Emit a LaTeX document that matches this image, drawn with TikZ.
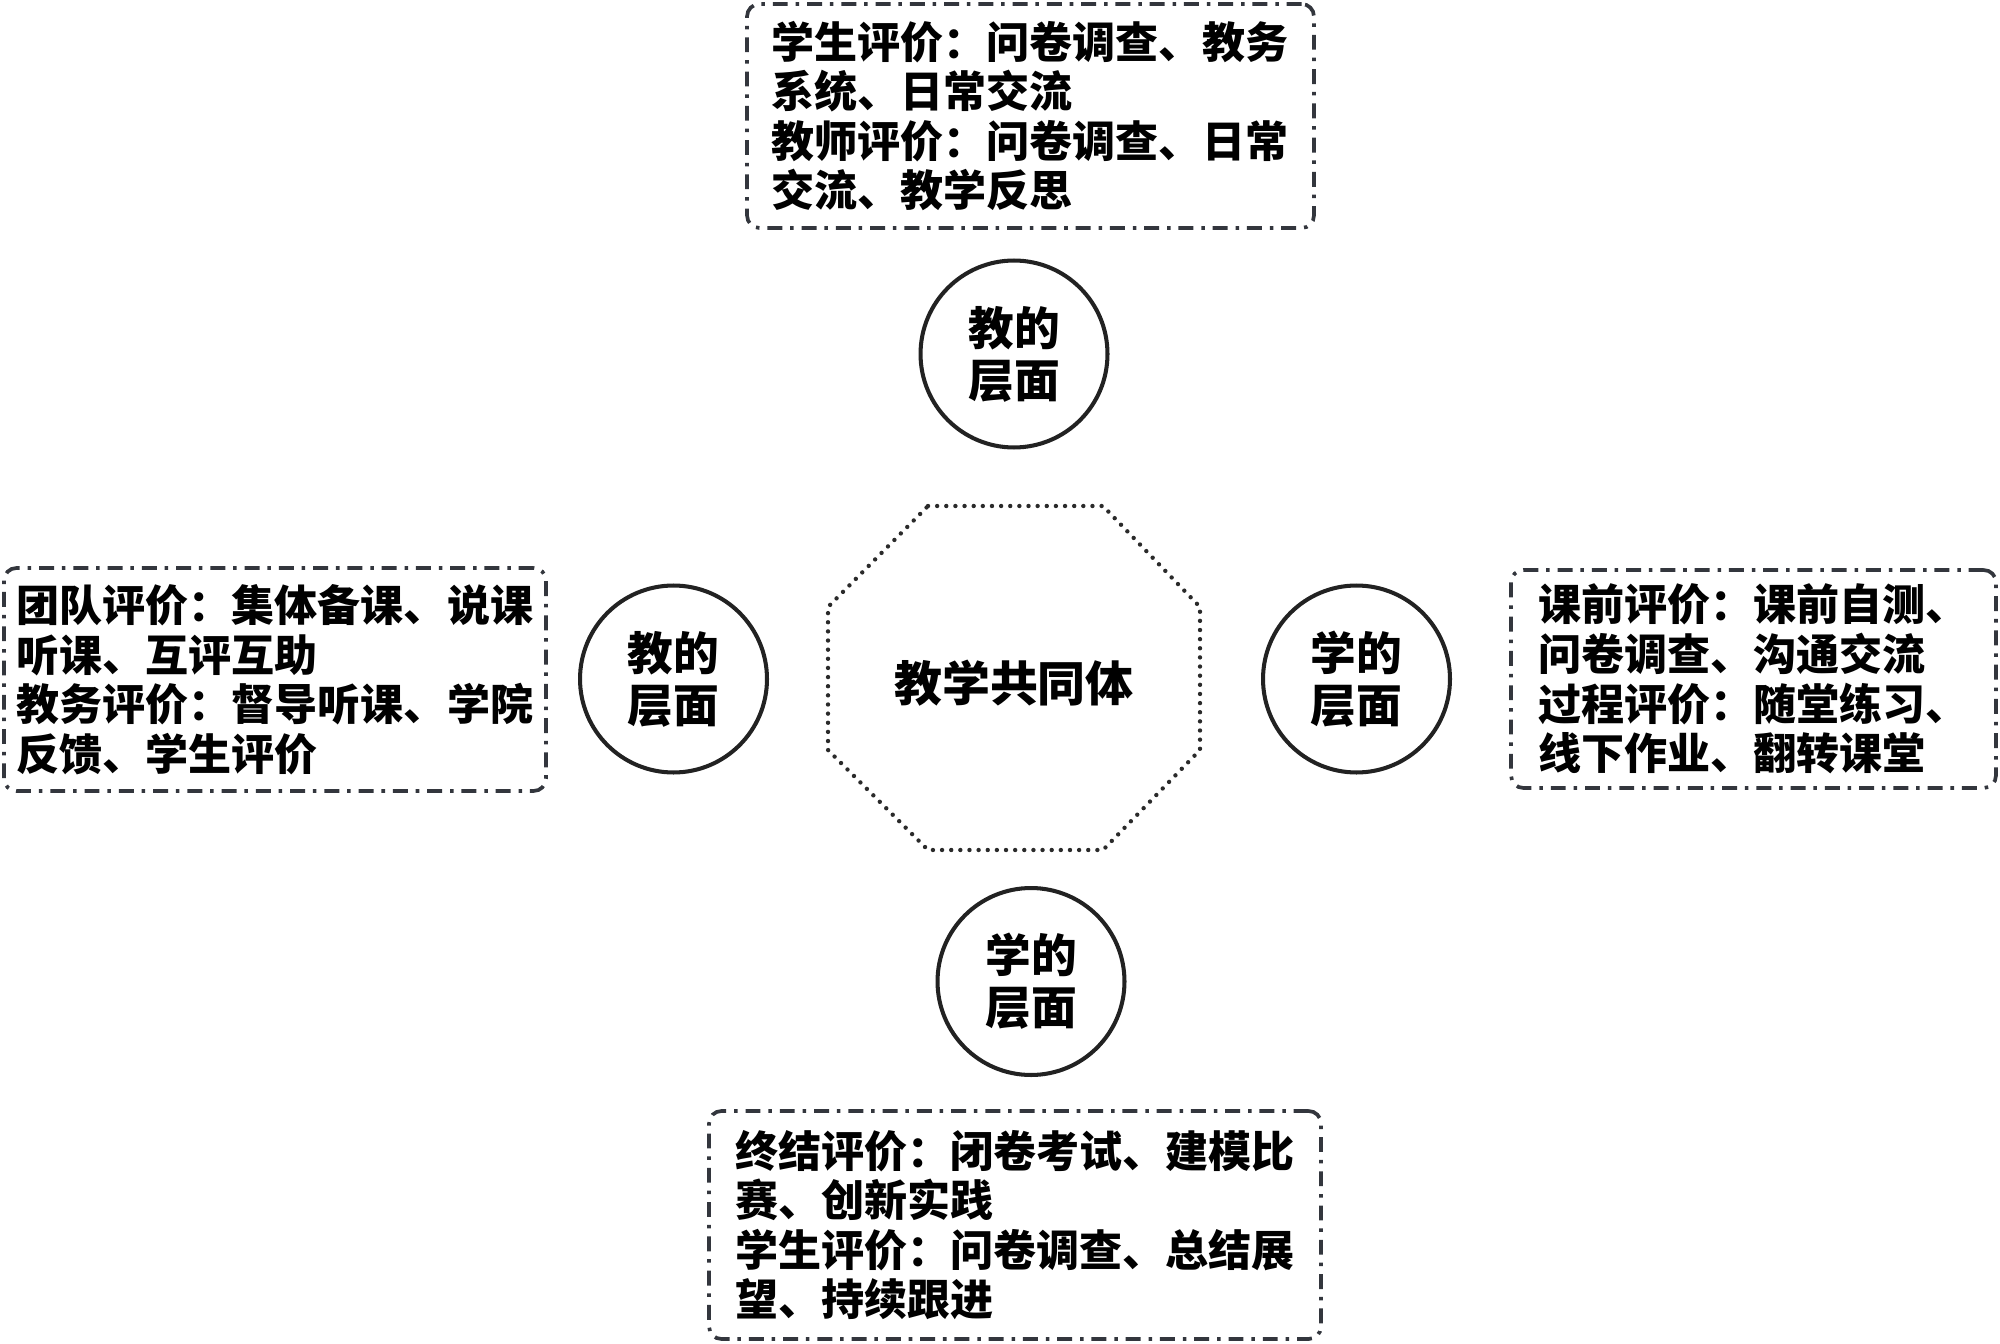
\documentclass[tikz,border=0pt]{standalone}
\usepackage{fontspec}
\newfontfamily\cjk{Noto Sans CJK SC}
\definecolor{boxgray}{HTML}{33363D}
\definecolor{circgray}{HTML}{222222}
\definecolor{dotgray}{HTML}{2A2A2A}
\begin{document}
\begin{tikzpicture}[x=0.02cm,y=-0.02cm,
  infobox/.style={draw=boxgray, line width=2.1pt, rounded corners=7pt,
    dash pattern=on 8.5pt off 4.5pt on 2pt off 4.5pt,
    align=left, font=\cjk\bfseries\fontsize{24.5}{28.2}\selectfont,
    inner ysep=0pt, anchor=center},
  circ/.style={circle, draw=circgray, line width=2.3pt, minimum size=3.74cm,
    inner sep=0pt, align=center, font=\cjk\bfseries\fontsize{26}{29.6}\selectfont},
  octline/.style={draw=dotgray, line width=2.5pt, line cap=round, dash pattern=on 0pt off 5.2pt},
  hub/.style={font=\cjk\bfseries\fontsize{27.3}{30}\selectfont, inner sep=0pt}
]
\useasboundingbox (0,0) rectangle (2000,1344);

% top box
\node[infobox, text width=10.36cm, inner xsep=0.49cm, minimum height=4.48cm] (topbox) at (1030.5,116)
  {学生评价：问卷调查、教务\\系统、日常交流\\教师评价：问卷调查、日常\\交流、教学反思};
% left box
\node[infobox, text width=10.34cm, inner xsep=0.25cm, minimum height=4.46cm] (leftbox) at (275,679.5)
  {团队评价：集体备课、说课\\听课、互评互助\\教务评价：督导听课、学院\\反馈、学生评价};
% right box
\node[infobox, text width=8.62cm, inner xsep=0.54cm, minimum height=4.36cm] (rightbox) at (1753.5,679)
  {课前评价：课前自测、\\问卷调查、沟通交流\\过程评价：随堂练习、\\线下作业、翻转课堂};
% bottom box
\node[infobox, text width=11.2cm, inner xsep=0.52cm, minimum height=4.56cm] (botbox) at (1015,1225)
  {终结评价：闭卷考试、建模比\\赛、创新实践\\学生评价：问卷调查、总结展\\望、持续跟进};

% circles
\node[circ] (ctop) at (1014,354) {教的\\层面};
\node[circ] (cleft) at (673.5,679) {教的\\层面};
\node[circ] (cright) at (1356.5,679) {学的\\层面};
\node[circ] (cbot) at (1031,981.5) {学的\\层面};

% hub
\node[hub] (hub) at (1014,683) {教学共同体};
\draw[octline] (928,506) -- (1103,506) -- (1200,607) -- (1200,750) -- (1103,850)
  -- (928,850) -- (828,750) -- (828,607) -- cycle;
\end{tikzpicture}
\end{document}
